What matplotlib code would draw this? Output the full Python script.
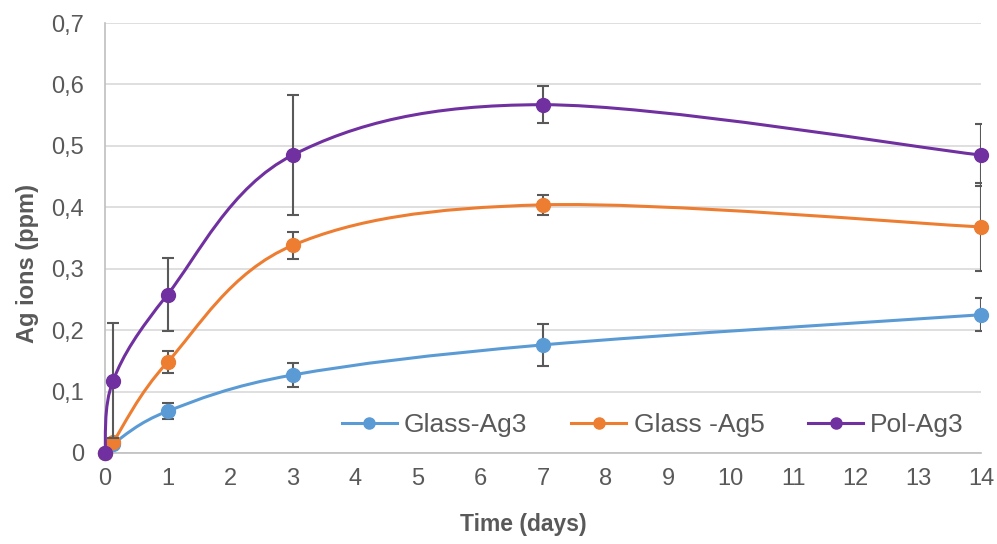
import matplotlib
matplotlib.use("Agg")
import matplotlib.pyplot as plt
import numpy as np
from matplotlib.path import Path
from matplotlib.patches import PathPatch
from matplotlib.ticker import FuncFormatter

plt.rcParams['font.family'] = ['Liberation Sans', 'DejaVu Sans']

days = [0, 0.13, 1, 3, 7, 14]
glass_ag3 = [0, 0.015, 0.068, 0.127, 0.176, 0.225]
glass_ag3_err = [0, 0, 0.013, 0.02, 0.034, 0.027]
glass_ag5 = [0, 0.018, 0.148, 0.338, 0.404, 0.368]
glass_ag5_err = [0, 0, 0.018, 0.022, 0.016, 0.072]
pol_ag3 = [0, 0.118, 0.258, 0.485, 0.567, 0.485]
pol_ag3_err = [0, 0.094, 0.06, 0.097, 0.03, 0.05]

labels = ["Glass-Ag3", "Glass -Ag5", "Pol-Ag3"]
colors = ["#5B9BD5", "#ED7D31", "#7030A0"]


def smooth_path(x, y):
    # Excel-style smoothed line: cubic Bezier through the points
    x = np.asarray(x, float)
    y = np.asarray(y, float)
    verts = [(x[0], y[0])]
    codes = [Path.MOVETO]
    n = len(x)
    for i in range(n - 1):
        x0, y0 = (x[i - 1], y[i - 1]) if i > 0 else (x[i], y[i])
        x3, y3 = (x[i + 2], y[i + 2]) if i + 2 < n else (x[i + 1], y[i + 1])
        c1 = (x[i] + (x[i + 1] - x0) / 6, y[i] + (y[i + 1] - y0) / 6)
        c2 = (x[i + 1] - (x3 - x[i]) / 6, y[i + 1] - (y3 - y[i]) / 6)
        verts += [c1, c2, (x[i + 1], y[i + 1])]
        codes += [Path.CURVE4] * 3
    return Path(verts, codes)


fig = plt.figure(figsize=(9.97, 5.44), dpi=100)
ax = fig.add_axes([0.1053, 0.1673, 0.8786, 0.7904])

series = [(glass_ag3, glass_ag3_err), (glass_ag5, glass_ag5_err), (pol_ag3, pol_ag3_err)]
for k, ((vals, err), c, lab) in enumerate(zip(series, colors, labels)):
    z = 3 + k
    ax.add_patch(PathPatch(smooth_path(days, vals), facecolor='none', edgecolor=c,
                           lw=2.2, zorder=z, clip_on=False))
    e = np.array(err)
    m = e > 0
    ax.errorbar(np.array(days)[m], np.array(vals)[m], yerr=e[m], fmt='none',
                ecolor='#595959', elinewidth=1.5, capsize=4, capthick=1.5, zorder=z)
    ax.plot(days, vals, 'o', color=c, ms=10, zorder=z + 0.5, clip_on=False)
    ax.plot([], [], '-o', color=c, lw=2.2, ms=8, label=lab)

ax.set_xlim(0, 14)
ax.set_ylim(0, 0.7)
ax.set_xticks(range(15))
ax.set_yticks(np.arange(0, 0.71, 0.1))
ax.yaxis.set_major_formatter(FuncFormatter(lambda v, p: "0" if abs(v) < 1e-9 else f"{v:.1f}".replace(".", ",")))
ax.grid(axis='y', color='#d9d9d9', lw=1.2)
ax.set_axisbelow(True)
for s in ['top', 'right']:
    ax.spines[s].set_visible(False)
for s in ['left', 'bottom']:
    ax.spines[s].set_color('#bfbfbf')
    ax.spines[s].set_linewidth(1.2)
ax.tick_params(axis='y', length=0, labelsize=17, colors='#595959', pad=15)
ax.tick_params(axis='x', length=0, labelsize=17, colors='#595959', pad=11)

ax.set_xlabel("Time (days)", fontsize=16.5, fontweight='bold', color='#595959', va='center')
ax.set_ylabel("Ag ions (ppm)", fontsize=17, fontweight='bold', color='#595959', va='center')
ax.xaxis.set_label_coords(0.478, -0.167)
ax.yaxis.set_label_coords(-0.088, 0.44)

fig.legend(loc='center right', bbox_to_anchor=(964 / 997, 1 - 425 / 544), ncol=3,
           frameon=False, fontsize=19, labelcolor='#595959', handlelength=2.1,
           handletextpad=0.27, columnspacing=1.65, borderaxespad=0, borderpad=0)

plt.savefig("out.png", dpi=100)
